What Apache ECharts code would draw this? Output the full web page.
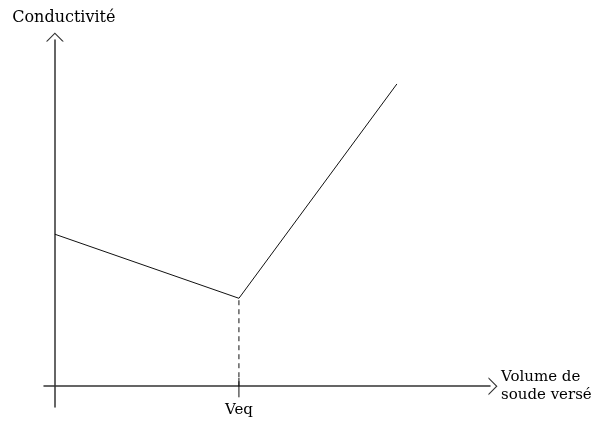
<!DOCTYPE html>
<html>
<head>
<meta charset="utf-8">
<script src="https://cdn.jsdelivr.net/npm/echarts@6/dist/echarts.min.js"></script>
<style>
  html, body { margin: 0; padding: 0; background: #fff; }
  #chart { width: 610px; height: 423px; }
</style>
</head>
<body>
<div id="chart"></div>
<script>
// courbe de conductimétrie (unités arbitraires)
const volumes = [0, 42.3, 78.6];
const conductivite = [43.9, 25.4, 87.3];
const veq = 42.3;
const tickLabels = ["Veq"];

const curve = volumes.map((v, i) => [v, conductivite[i]]);
const dashed = [[veq, 0], [veq, conductivite[1]]];
const tickMark = [[veq, -3.2], [veq, 2.4]];

const chart = echarts.init(document.getElementById("chart"));
// flèche ouverte en chevron
const arrow = "path://M0,9 L9,0 L18,9 L16.4,9 L9,1.6 L1.6,9 Z";
const font = "DejaVu Serif";

const option = {
  animation: false,
  backgroundColor: "#fff",
  grid: { left: 44, right: 120, top: 40, bottom: 16, outerBoundsMode: "none", containLabel: false },
  xAxis: {
    type: "value",
    min: -2.5,
    max: 100,
    name: "Volume de\nsoude versé",
    nameLocation: "end",
    nameGap: 11,
    nameTextStyle: { fontFamily: font, fontSize: 15, color: "#000", align: "left", lineHeight: 18 },
    axisLine: {
      onZero: true,
      lineStyle: { color: "#333", width: 1.5 },
      symbol: ["none", arrow],
      symbolSize: [18, 9],
      symbolOffset: [0, 3]
    },
    axisTick: { show: false },
    splitLine: { show: false },
    axisLabel: {
      customValues: [veq],
      formatter: () => tickLabels[0],
      margin: -4,
      fontFamily: font,
      fontSize: 15,
      color: "#000"
    }
  },
  yAxis: {
    type: "value",
    min: -6,
    max: 100,
    name: "Conductivité",
    nameLocation: "end",
    nameGap: 14,
    nameTextStyle: { fontFamily: font, fontSize: 16, color: "#000", padding: [0, 0, 0, 18] },
    axisLine: {
      onZero: true,
      lineStyle: { color: "#333", width: 1.5 },
      symbol: ["none", arrow],
      symbolSize: [18, 9],
      symbolOffset: [0, 3]
    },
    axisTick: { show: false },
    splitLine: { show: false },
    axisLabel: { show: false }
  },
  series: [
    {
      type: "line",
      data: curve,
      symbol: "none",
      lineStyle: { color: "#111", width: 1 }
    },
    {
      type: "line",
      data: dashed,
      symbol: "none",
      lineStyle: { color: "#111", width: 1, type: [5, 4] }
    },
    {
      type: "line",
      data: tickMark,
      symbol: "none",
      lineStyle: { color: "#111", width: 1 }
    }
  ]
};
chart.setOption(option);
</script>
</body>
</html>
